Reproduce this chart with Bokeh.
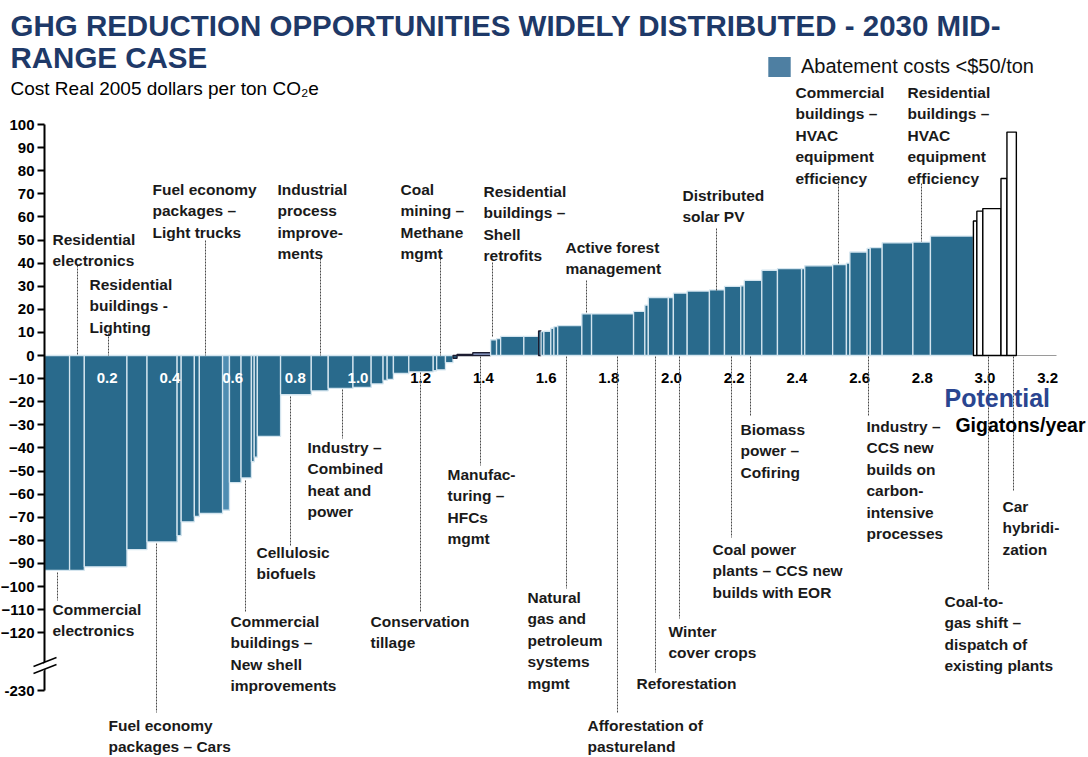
import numpy as np
from bokeh.plotting import figure
from bokeh.models import Range1d, FixedTicker, ColumnDataSource, Legend, LegendItem
from bokeh.core.properties import value
from bokeh.embed import file_html
from bokeh.resources import INLINE

# ---------------- data ----------------
# abatement measures with cost < $50/ton, in merit order
widths = [0.080, 0.047, 0.136, 0.064, 0.096, 0.013, 0.042, 0.016, 0.074, 0.022,
          0.037, 0.033, 0.009, 0.010, 0.074, 0.098, 0.054, 0.079, 0.058, 0.038,
          0.013, 0.020, 0.049, 0.078, 0.011, 0.028, 0.024, 0.013, 0.050, 0.057,
          0.019, 0.013, 0.074, 0.047, 0.008, 0.009, 0.022, 0.010, 0.012, 0.077,
          0.031, 0.134, 0.036, 0.011, 0.064, 0.016, 0.044, 0.071, 0.048, 0.052,
          0.011, 0.056, 0.050, 0.077, 0.010, 0.089, 0.044, 0.011, 0.055, 0.010,
          0.038, 0.098, 0.056, 0.137]
costs = [-93, -93, -91.5, -84, -80.7, -78, -72, -69.7, -68.4, -67,
         -55, -53, -46, -44, -35, -17, -15.3, -14.2, -13.8, -12.3,
         -10.8, -10.3, -7.8, -7.1, -6.6, -6.2, -3.1, -1.2, 0.5, 1.2,
         6.8, 7.3, 8.3, 8.3, 10.6, 10.3, 10.5, 11.8, 12.5, 12.9,
         18, 18, 19.1, 21.8, 25.1, 25.1, 27, 27.9, 28.4, 29.9,
         30.2, 32.5, 36.9, 37.6, 37.6, 38.8, 39.4, 40, 44.8, 46.4,
         46.7, 48.8, 49.1, 51.7]
# measures above $50/ton (white bars)
high_widths = [0.011, 0.019, 0.058, 0.019, 0.030]
high_costs = [58.2, 62.5, 63.6, 76.6, 96.7]

y_tick_values = [100, 90, 80, 70, 60, 50, 40, 30, 20, 10, 0, -10, -20, -30,
                 -40, -50, -60, -70, -80, -90, -100, -110, -120]
y_break_label = "-230"
x_tick_values = [0.2, 0.4, 0.6, 0.8, 1.0, 1.2, 1.4, 1.6, 1.8, 2.0, 2.2, 2.4,
                 2.6, 2.8, 3.0, 3.2]
x_tick_labels = ["0.2", "0.4", "0.6", "0.8", "1.0", "1.2", "1.4", "1.6", "1.8",
                 "2.0", "2.2", "2.4", "2.6", "2.8", "3.0", "3.2"]

title_lines = ["GHG REDUCTION OPPORTUNITIES WIDELY DISTRIBUTED - 2030 MID-",
               "RANGE CASE"]
subtitle = "Cost Real 2005 dollars per ton CO\u2082e"
legend_label = "Abatement costs <$50/ton"

# ---------------- layout helpers (page pixels -> data) ----------------
W, H = 1086, 755
X0, XS = 44.0, 313.5      # page x of 0 Gt, px per Gt
Y0, YS = 355.0, 2.31      # page y of $0, px per $


def gx(px):
    return (px - X0) / XS


def gy(py):
    return (Y0 - py) / YS


break_pos = gy(690)
FONT = "Liberation Sans"

p = figure(width=W, height=H, output_backend="svg", toolbar_location=None,
           x_range=Range1d(gx(0), gx(W)), y_range=Range1d(gy(H), gy(0)),
           min_border_left=0, min_border_right=0, min_border_top=0,
           min_border_bottom=0)
p.xaxis.visible = False
p.xgrid.visible = False
p.ygrid.visible = False
p.outline_line_color = None
p.background_fill_color = "white"

yax = p.yaxis[0]
yax.fixed_location = 0
yax.ticker = FixedTicker(ticks=[break_pos] + y_tick_values)
yax.major_label_overrides = {break_pos: y_break_label}
yax.bounds = (break_pos, 100)
yax.axis_line_width = 2
yax.axis_line_color = "black"
yax.major_tick_line_width = 2
yax.major_tick_in = 0
yax.major_tick_out = 7
yax.minor_tick_line_color = None
yax.major_label_standoff = 3
yax.major_label_text_font = FONT
yax.major_label_text_font_style = "bold"
yax.major_label_text_font_size = "15px"
yax.major_label_text_color = "black"

BLUE = "#296A8C"
EDGE = "#D4E5EF"
DARK = "#1C1C30"

# zero line
p.segment(x0=[0], y0=[0], x1=[gx(1056)], y1=[0], line_color="#9A9A9A", line_width=1)

# bars
lefts = np.concatenate([[0], np.cumsum(widths)[:-1]])
rights = lefts + np.array(widths)
c = np.array(costs, dtype=float)
fills = [BLUE] * len(widths)
lines = [EDGE] * len(widths)
fills[9] = "#4F8DB2"
for i in (27, 28, 34):
    lines[i] = DARK
fills[29] = "#9DB0E0"
lines[29] = DARK
src = ColumnDataSource(dict(left=lefts, right=rights, top=np.maximum(c, 0),
                            bottom=np.minimum(c, 0), fill=fills, line=lines))
p.quad(left="left", right="right", top="top", bottom="bottom", source=src,
       fill_color="fill", line_color="line", line_width=1.3)

hl = rights[-1] + np.concatenate([[0], np.cumsum(high_widths)[:-1]])
hr = hl + np.array(high_widths)
p.quad(left=hl, right=hr, top=high_costs, bottom=0, fill_color="white",
       line_color="black", line_width=1.4)

# axis break marks (white gap, then two slanted strokes)
p.patch(x=[gx(40), gx(48), gx(48), gx(40)], y=[gy(666), gy(659), gy(666), gy(673)],
        fill_color="white", line_color=None, level="overlay")
p.segment(x0=[gx(33), gx(33)], y0=[gy(666), gy(673)], x1=[gx(56), gx(56)],
          y1=[gy(657), gy(664)], line_color="black", line_width=1.4, level="overlay")

# x tick labels written along the zero line
tick_colors = ["white" if v <= 1.0 else "black" for v in x_tick_values]
p.text(x=x_tick_values, y=[gy(377)] * len(x_tick_values), text=x_tick_labels,
       text_color=tick_colors, text_font=value(FONT),
       text_font_style="bold", text_font_size="15px", text_align="center",
       text_baseline="middle")

# ---------------- annotations ----------------
labels = [
    ("Residential\nelectronics", 52, 230, 77, 265, 355),
    ("Residential\nbuildings -\nLighting", 89, 275, 108, 333, 355),
    ("Fuel economy\npackages \u2013\nLight trucks", 152, 180, 205, 240, 355),
    ("Industrial\nprocess\nimprove-\nments", 277, 180, 320, 258, 355),
    ("Coal\nmining \u2013\nMethane\nmgmt", 400, 180, 440, 258, 355),
    ("Residential\nbuildings \u2013\nShell\nretrofits", 483, 182, 492, 262, 337),
    ("Active forest\nmanagement", 565, 238, 586, 280, 313),
    ("Distributed\nsolar PV", 682, 186, 716, 228, 290),
    ("Commercial\nbuildings \u2013\nHVAC\nequipment\nefficiency", 795, 83, 838, 180, 264),
    ("Residential\nbuildings \u2013\nHVAC\nequipment\nefficiency", 907, 83, 921, 183, 241),
    ("Commercial\nelectronics", 52, 600, 57, 572, 600),
    ("Fuel economy\npackages \u2013 Cars", 108, 716, 156, 543, 712),
    ("Cellulosic\nbiofuels", 256, 543, 290, 396, 545),
    ("Commercial\nbuildings \u2013\nNew shell\nimprovements", 230, 612, 245, 480, 612),
    ("Industry \u2013\nCombined\nheat and\npower", 307, 438, 342, 389, 438),
    ("Conservation\ntillage", 370, 612, 420, 372, 612),
    ("Manufac-\nturing \u2013\nHFCs\nmgmt", 447, 465, 480, 356, 465),
    ("Natural\ngas and\npetroleum\nsystems\nmgmt", 527, 588, 566, 356, 588),
    ("Afforestation of\npastureland", 587, 716, 617, 356, 712),
    ("Reforestation", 636, 674, 655, 356, 672),
    ("Winter\ncover crops", 668, 622, 679, 356, 618),
    ("Biomass\npower \u2013\nCofiring", 740, 420, 750, 356, 416),
    ("Coal power\nplants \u2013 CCS new\nbuilds with EOR", 712, 540, 731, 356, 537),
    ("Industry  \u2013\nCCS  new\nbuilds on\ncarbon-\nintensive\nprocesses", 866, 417, 868, 356, 415),
    ("Car\nhybridi-\nzation", 1002, 497, 1013, 356, 490),
    ("Coal-to-\ngas shift \u2013\ndispatch of\nexisting plants", 944, 592, 988, 356, 590),
]
p.segment(x0=[gx(l[3]) for l in labels], y0=[gy(l[4]) for l in labels],
          x1=[gx(l[3]) for l in labels], y1=[gy(l[5]) for l in labels],
          line_color="#4A4A4A", line_width=1, line_dash="2 1")
p.text(x=[gx(l[1]) for l in labels], y=[gy(l[2]) for l in labels],
       text=[l[0] for l in labels], text_color="#1A1A1A",
       text_font=value(FONT), text_font_style="bold",
       text_font_size="15.5px", text_align="left", text_baseline="top",
       text_line_height=1.27)

p.text(x=[gx(944)], y=[gy(397)], text=["Potential"], text_color="#2A4590",
       text_font=value(FONT), text_font_style="bold",
       text_font_size="25px", text_baseline="middle")
p.text(x=[gx(1085)], y=[gy(424)], text=["Gigatons/year"], text_color="black",
       text_font=value(FONT), text_font_style="bold",
       text_font_size="19.5px", text_baseline="middle", text_align="right")

p.text(x=[gx(10), gx(10)], y=[gy(25), gy(57)], text=title_lines,
       text_color="#1E3968", text_font=value(FONT), text_font_style="bold",
       text_font_size="29.5px", text_baseline="middle")
p.text(x=[gx(10)], y=[gy(88)], text=[subtitle], text_color="black",
       text_font=value(FONT), text_font_size="19px", text_baseline="middle")

dummy = p.quad(left=[-5], right=[-4.9], top=[1], bottom=[0], fill_color="#4E7FA2",
               line_color=None)
legend = Legend(items=[LegendItem(label=legend_label, renderers=[dummy])],
                location=(765, H - 79), glyph_width=28, glyph_height=25,
                label_text_font=FONT, label_text_font_size="20px",
                label_text_color="#111111",
                label_standoff=8, padding=0, margin=0, spacing=0,
                background_fill_alpha=0, border_line_alpha=0)
p.add_layout(legend)

open("out.html", "w").write(file_html(p, INLINE))
